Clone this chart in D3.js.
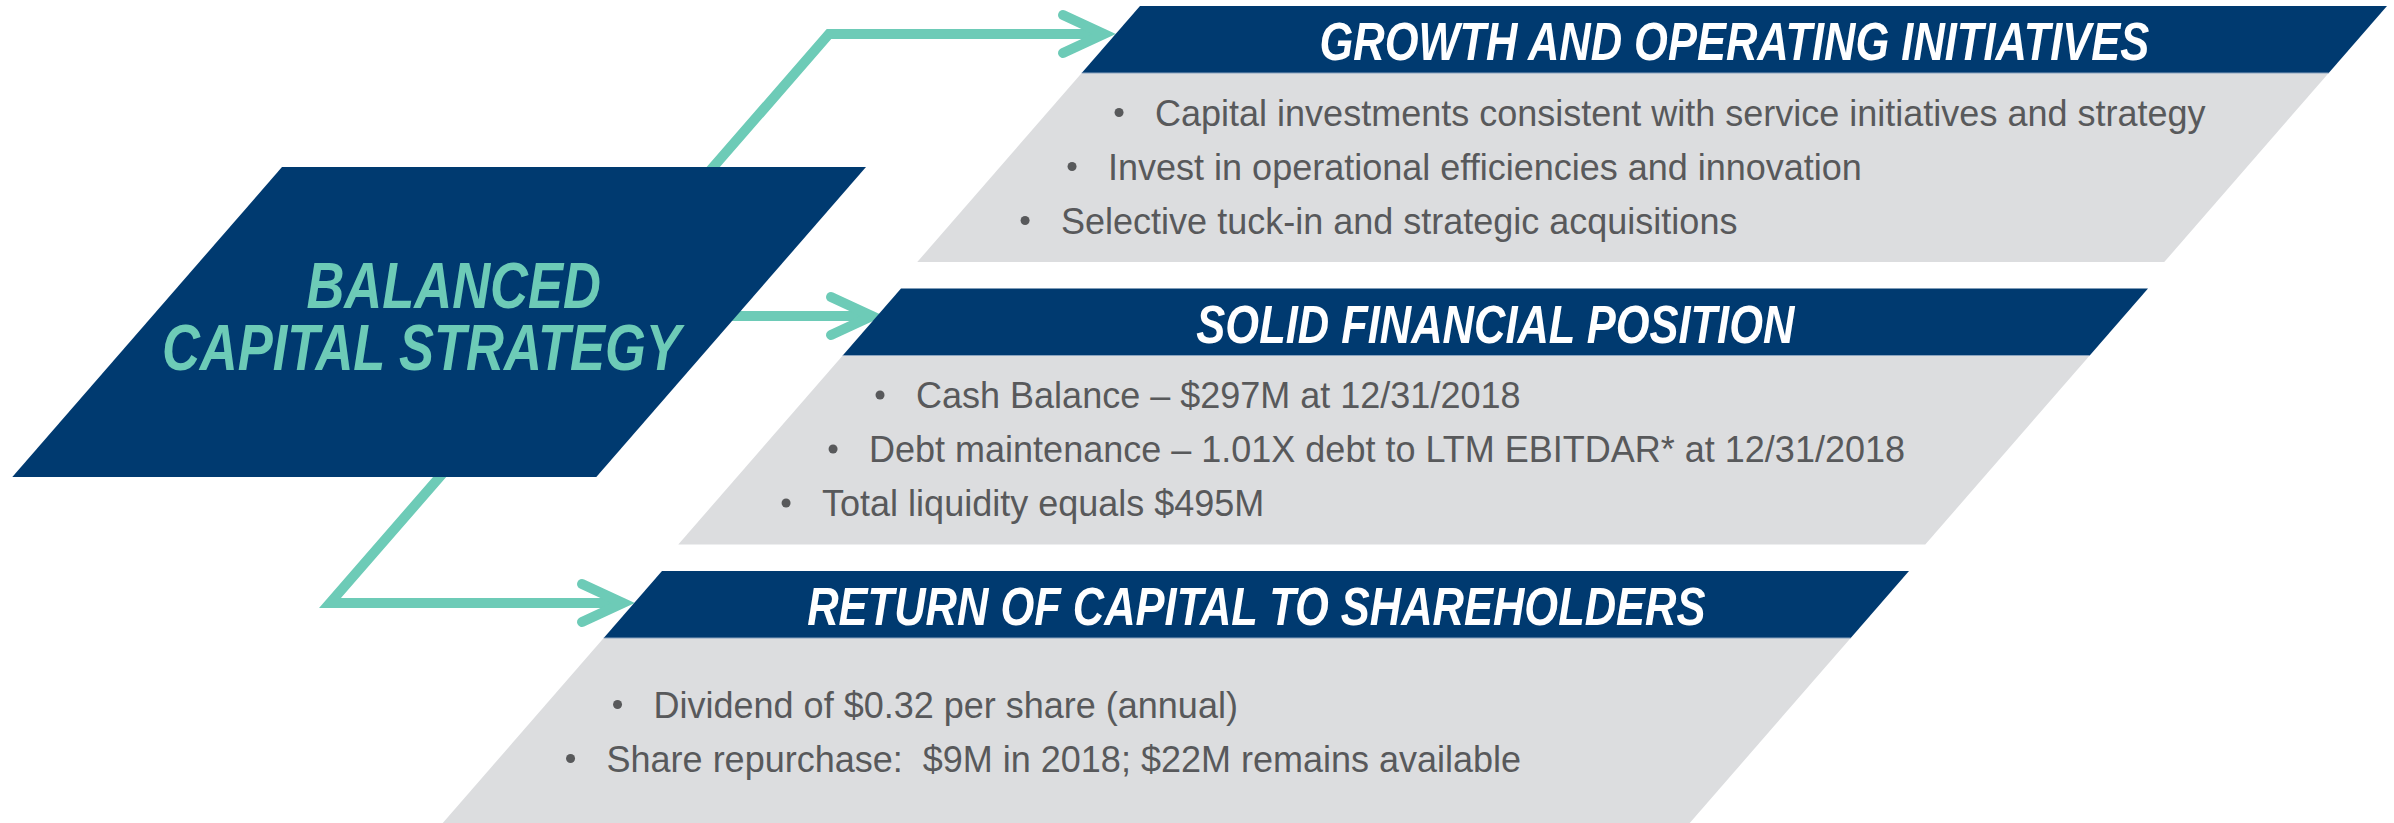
<!DOCTYPE html>
<html>
<head>
<meta charset="utf-8">
<script src="https://cdn.jsdelivr.net/npm/d3@7"></script>
<style>
  html, body { margin: 0; padding: 0; background: #fff; }
  svg { display: block; }
  text { white-space: pre; }
</style>
</head>
<body>
<svg id="container" width="2394" height="823"></svg>
<script>
// text content
const hubLines = ["BALANCED", "CAPITAL STRATEGY"];
const panelTitles = [
  "GROWTH AND OPERATING INITIATIVES",
  "SOLID FINANCIAL POSITION",
  "RETURN OF CAPITAL TO SHAREHOLDERS"
];
const growthBullets = [
  "Capital investments consistent with service initiatives and strategy",
  "Invest in operational efficiencies and innovation",
  "Selective tuck-in and strategic acquisitions"
];
const financialBullets = [
  "Cash Balance \u2013 $297M at 12/31/2018",
  "Debt maintenance \u2013 1.01X debt to LTM EBITDAR* at 12/31/2018",
  "Total liquidity equals $495M"
];
const returnBullets = [
  "Dividend of $0.32 per share (annual)",
  "Share repurchase:  $9M in 2018; $22M remains available"
];
const panelBullets = [growthBullets, financialBullets, returnBullets];

const NAVY = "#003a70";
const TEAL = "#6dcbb7";
const GREY = "#dcdddf";
const TEXT = "#58595b";
const SLANT = 0.87;       // dx per dy of every slanted edge
const NARROW = 0.82;      // condensed headline look

const svg = d3.select("#container");

// panel layout: index -> top y / top-left x
const panelY = d3.scaleLinear().domain([0, 2]).range([6, 571]);
const panelX = d3.scaleLinear().domain([0, 2]).range([1140, 662]);
const PANEL_W = 1247, HEAD_H = 67, PANEL_H = 256, LINE_H = 54;

function para(x, y, w, h) {
  // parallelogram, top-left at (x,y), leaning right
  const d = SLANT * h;
  return [[x, y], [x + w, y], [x + w - d, y + h], [x - d, y + h]];
}
const line = d3.line();

function condense(sel) {
  sel.each(function () {
    const w = this.getComputedTextLength();
    d3.select(this).attr("textLength", w * NARROW).attr("lengthAdjust", "spacingAndGlyphs");
  });
}

// arrows (behind the hub)
const arrows = svg.append("g")
  .attr("fill", "none")
  .attr("stroke", TEAL)
  .attr("stroke-width", 10);

const arrowDefs = [
  { pts: [[829 - SLANT * 200, 234], [829, 34], [1100, 34]], tip: [1104, 34] },
  { pts: [[700, 316], [868, 316]], tip: [872, 316] },
  { pts: [[330 + SLANT * 180, 423], [330, 603], [619, 603]], tip: [623, 603] }
];
arrowDefs.forEach((a) => {
  arrows.append("path")
    .attr("d", line(a.pts))
    .attr("stroke-linejoin", "miter");
  arrows.append("path")
    .attr("d", line([[a.tip[0] - 41, a.tip[1] - 19], a.tip, [a.tip[0] - 41, a.tip[1] + 19]]))
    .attr("stroke-linecap", "round")
    .attr("stroke-linejoin", "miter");
});

// hub parallelogram
svg.append("path")
  .attr("d", line(para(282, 167, 584, 310)) + "Z")
  .attr("fill", NAVY);

const hubCx = 437.5, hubBase = 308, hubLineH = 62;
svg.append("g").selectAll("text")
  .data(hubLines)
  .join("text")
  .attr("x", (d, i) => hubCx + (0.5 - i) * hubLineH * 0.52)
  .attr("y", (d, i) => hubBase + i * hubLineH)
  .attr("text-anchor", "middle")
  .attr("font-family", "'Liberation Sans', Arial, sans-serif")
  .attr("font-weight", "bold")
  .attr("font-style", "italic")
  .attr("font-size", 64)
  .attr("fill", TEAL)
  .text((d) => d)
  .call(condense);

// panels
const panels = svg.append("g").selectAll("g")
  .data(panelTitles)
  .join("g");

panels.each(function (title, i) {
  const g = d3.select(this);
  const x0 = panelX(i), y0 = panelY(i);
  g.append("path")
    .attr("d", line(para(x0 - SLANT * HEAD_H, y0 + HEAD_H, PANEL_W, PANEL_H - HEAD_H)) + "Z")
    .attr("fill", GREY);
  g.append("path")
    .attr("d", line(para(x0, y0, PANEL_W, HEAD_H)) + "Z")
    .attr("fill", NAVY);
  g.append("line")
    .attr("x1", x0 - SLANT * HEAD_H).attr("x2", x0 - SLANT * HEAD_H + PANEL_W)
    .attr("y1", y0 + HEAD_H).attr("y2", y0 + HEAD_H)
    .attr("stroke", "#8aa3bf").attr("stroke-width", 1);

  g.append("text")
    .attr("x", x0 - SLANT * (HEAD_H / 2) + PANEL_W / 2)
    .attr("y", y0 + 54)
    .attr("text-anchor", "middle")
    .attr("font-family", "'Liberation Sans', Arial, sans-serif")
    .attr("font-weight", "bold")
    .attr("font-style", "italic")
    .attr("font-size", 53)
    .attr("fill", "#fff")
    .text(title)
    .call(condense);

  // bullets centred vertically in the grey body
  const items = panelBullets[i];
  const bodyMid = y0 + HEAD_H + (PANEL_H - HEAD_H) / 2;
  const firstBase = bodyMid + 12 - (items.length - 1) * LINE_H / 2;
  const leftAt = (y) => x0 - SLANT * (y - y0);

  const rows = g.selectAll("g.row")
    .data(items)
    .join("g")
    .attr("class", "row");
  rows.append("circle")
    .attr("cx", (d, j) => leftAt(firstBase + j * LINE_H) + 119 - 36)
    .attr("cy", (d, j) => firstBase + j * LINE_H - 13)
    .attr("r", 4.5)
    .attr("fill", TEXT);
  rows.append("text")
    .attr("x", (d, j) => leftAt(firstBase + j * LINE_H) + 119)
    .attr("y", (d, j) => firstBase + j * LINE_H)
    .attr("font-family", "'Liberation Sans', Arial, sans-serif")
    .attr("font-size", 36)
    .attr("fill", TEXT)
    .text((d) => d);
});
</script>
</body>
</html>
